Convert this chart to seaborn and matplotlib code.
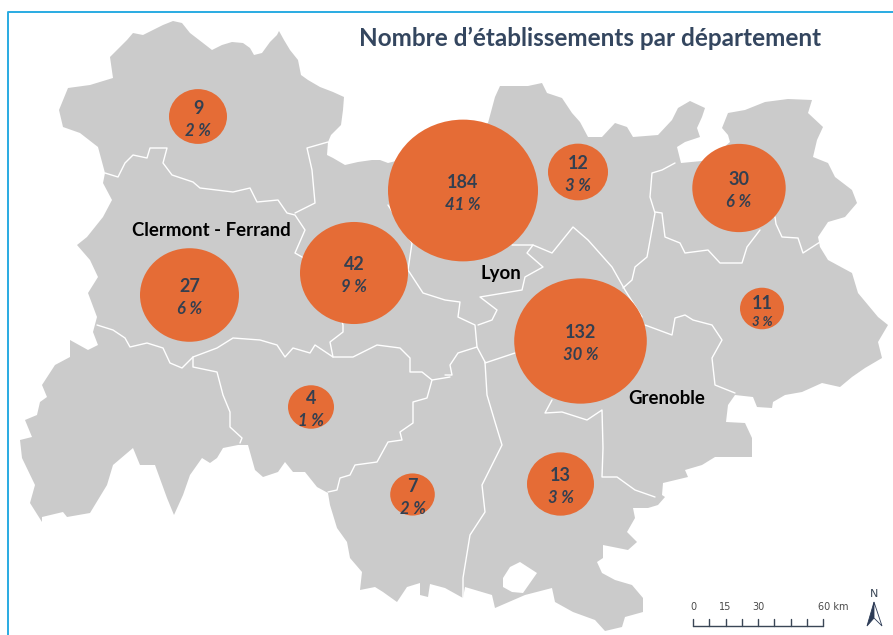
import numpy as np
import pandas as pd
import seaborn as sns
from matplotlib import pyplot as plt
from matplotlib.path import Path
from matplotlib.transforms import Affine2D

outline = [(173,21),(182,23),(190,33),(203,43),(212,50),(222,45),(232,42),(243,43),(250,48),(254,55),(262,53),
           (270,42),(277,35),(279,31),(284,40),(290,50),(298,60),(301,75),(308,80),(320,87),(333,92),(344,97),
           (343,110),(341,125),(331,135),(328,142),(327,155),(333,158),(345,165),(358,162),(372,160),(380,160),
           (388,163),(440,150),(488,123),(495,97),(500,86),(512,86),(528,86),(542,83),(547,93),(562,98),(572,113),
           (580,122),(588,137),(602,137),(615,123),(627,127),(633,137),(658,135),(672,120),(678,108),(690,101),
           (705,108),(702,117),(697,128),(700,137),(685,142),(677,147),(681,163),(702,161),(712,158),(730,142),
           (728,135),(722,128),(728,113),(745,110),(765,102),(788,99),(812,100),(808,113),(823,127),(817,140),
           (813,157),(828,163),(835,177),(852,190),(857,203),(845,217),(828,222),(818,237),(820,247),(828,260),
           (852,273),(858,293),(878,317),(888,325),(878,342),(882,358),(865,368),(852,377),(840,387),(822,383),
           (802,392),(785,395),(773,402),(772,408),(757,407),(753,397),(735,395),(728,405),(726,422),(745,423),
           (752,438),(752,457),(732,457),(715,457),(702,465),(685,470),(688,477),(663,483),(662,495),(665,497),
           (658,505),(648,508),(633,508),(635,518),(627,532),(637,542),(628,550),(603,545),(603,558),(597,562),
           (602,573),(615,580),(632,585),(643,598),(643,612),(625,617),(622,627),(605,631),(595,620),(573,612),
           (555,602),(552,588),(525,595),(495,608),(492,595),(465,587),(463,598),(445,588),(430,584),(428,597),
           (420,595),(420,583),(407,587),(397,602),(383,592),(375,587),(360,590),(362,572),(350,558),(347,542),
           (337,528),(330,505),(328,493),(317,487),(305,472),(293,472),(285,462),(278,472),(263,477),(255,470),
           (248,445),(238,445),(223,448),(217,458),(210,463),(202,458),(190,475),(183,495),(174,515),(167,498),
           (155,465),(140,465),(133,448),(113,465),(107,485),(90,513),(67,517),(63,512),(42,517),(42,522),(30,503),
           (35,485),(22,458),(20,440),(32,437),(25,420),(37,415),(40,402),(47,397),(42,385),(55,365),(70,357),
           (70,340),(88,350),(98,345),(93,332),(97,317),(88,293),(98,277),(90,260),(77,245),(87,237),(103,217),
           (112,200),(103,183),(105,173),(98,147),(80,133),(63,127),(59,110),(68,88),(90,85),(113,78),(110,57),
           (127,40),(133,33),(143,35),(163,25)]

hole = [(520,562),(537,573),(523,593),(512,592),(503,587),(503,578),(510,567)]

borders = [
    [(105,173),(118,177),(125,163),(133,155),(147,158),(150,148),(167,148),(163,163),(172,175),(193,182),(200,188),
     (233,192),(250,188),(257,202),(278,200),(287,213),(295,215),(305,230),(295,253),(302,257),(330,280),(343,325),
     (343,332),(330,342),(333,357)],
    [(328,142),(307,148),(312,170),(315,203),(295,213)],
    [(388,205),(412,243),(408,270),(423,293),(445,300),(460,302),(458,317),(475,325),(477,347),(485,362)],
    [(512,245),(533,245),(552,253),(573,227),(588,240),(612,267),(625,290),(642,317)],
    [(533,245),(527,253),(543,267),(525,277),(522,290),(480,297),(497,310),(492,320),(478,325)],
    [(675,163),(662,170),(652,173),(650,197),(655,213),(647,257),(635,267),(632,280),(623,288)],
    [(655,212),(662,213),(665,237),(680,243),(685,253),(708,250),(720,263),(742,263),(747,247),(760,230)],
    [(775,217),(776,224),(782,237),(798,238),(803,253),(820,242)],
    [(645,325),(672,335),(675,318),(685,315),(693,320),(712,325),(722,340),(712,358),(715,385),(735,393)],
    [(552,400),(545,413),(562,412),(587,420),(602,410),(603,448),(602,477),(617,477),(635,490),(655,497)],
    [(485,362),(487,395),(495,422),(502,445),(482,485),(485,512),(470,535),(463,578),(463,598)],
    [(485,363),(515,353)],
    [(477,347),(458,353),(450,365),(452,375),(445,375)],
    [(97,325),(113,330),(125,338),(130,347),(147,343),(163,348),(170,363),(182,368),(193,357),(217,348),(233,338),
     (260,340),(277,345),(285,357),(293,348),(310,353),(315,345),(333,357),(353,357),(377,345),(400,348),(410,358),
     (410,372),(422,372),(432,380),(450,377)],
    [(193,357),(193,367),(217,372),(223,395),(230,412),(230,427),(242,438),(240,443)],
    [(432,380),(427,398),(413,402),(413,423),(400,432),(402,440),(388,442),(377,462),(355,465),(350,475),(340,478),
     (337,490),(328,492)],
]

counts = [9, 27, 42, 184, 12, 30, 11, 132, 4, 7, 13]
shares = ['2 %', '6 %', '9 %', '41 %', '3 %', '6 %', '3 %', '30 %', '1 %', '2 %', '3 %']
bubble_x = [198, 189.5, 354, 463, 578, 739, 762, 580.5, 311, 412.5, 560.5]
bubble_y = [116.5, 295, 273, 190.5, 172, 188, 308.5, 341, 407, 494.5, 484]
bubble_rx = [29, 49.5, 54, 75, 30, 46.7, 22, 66.3, 23, 22.3, 33.5]

cities = ['Clermont - Ferrand', 'Lyon', 'Grenoble']
city_x = [211, 501, 667]
city_y = [231, 274, 398]

scale_km = [0, 15, 30, 60]

DARK = '#333f50'

sns.set_theme(style='white')
plt.rcParams['font.family'] = ['Lato', 'DejaVu Sans']

fig, ax = plt.subplots(figsize=(8.93, 6.35), dpi=100)
ax.set_position([0, 0, 1, 1])

# blue frame
ax.plot([8, 8, 893], [635, 12, 12], color='#29abe2', lw=1.4, solid_capstyle='butt')

# map
ax.fill(*zip(*outline), color='#cbcbcb', lw=0, zorder=1)
ax.fill(*zip(*hole), color='white', lw=0, zorder=1.5)
for line in borders:
    ax.plot(*zip(*line), color='white', lw=1.0, zorder=2)

# bubbles are slightly squashed in the original
squashed = Path.unit_circle().transformed(Affine2D().scale(1, 0.945))
df = pd.DataFrame({'x': bubble_x, 'y': bubble_y, 'count': counts, 'rx': bubble_rx})
sizes = {c: (2 * r * 0.72) ** 2 for c, r in zip(counts, bubble_rx)}
sns.scatterplot(data=df, x='x', y='y', size='count', sizes=sizes, marker=squashed,
                color='#e56c36', linewidth=0, legend=False, ax=ax, zorder=3)

for x, y, c, s in zip(bubble_x, bubble_y, counts, shares):
    # the bubble for 11 is small, its labels are tighter
    small = c == 11
    ax.text(x, y - (5 if small else 8.5), str(c), ha='center', va='center', fontsize=13, fontweight='bold',
            color=DARK, zorder=4)
    ax.text(x, y + 14, s, ha='center', va='center', fontsize=9.5 if small else 12, fontweight='bold',
            style='italic', color=DARK, zorder=4)

for name, x, y in zip(cities, city_x, city_y):
    ax.text(x, y, name, ha='center', va='center', fontsize=13.4, fontweight='bold', color='black', zorder=4)

ax.text(590, 38, 'Nombre d\u2019établissements par département', ha='center', va='center',
        fontsize=17.5, fontweight='bold', color='#34465f', zorder=4)

# scale bar
km_to_px = 130 / 60
bar_km = np.arange(0, 61, 7.5)
ax.plot([693, 823], [626, 626], color='#3a4656', lw=1)
for k in bar_km:
    ax.plot([693 + k * km_to_px] * 2, [618.5, 626], color='#3a4656', lw=1)
for k in scale_km:
    label = '60 km' if k == 60 else str(k)
    ax.text(693 + k * km_to_px + (10 if k == 60 else 0), 607, label, ha='center', va='center', fontsize=7,
            family='DejaVu Sans', color='#4a4a4a')

# north arrow
ax.text(874, 594, 'N', ha='center', va='center', fontsize=8, family='DejaVu Sans', color='#3a4656')
ax.fill([874, 867, 874], [602, 626, 618], color='#2b3a55', lw=0.6)
ax.fill([874, 882, 874], [602, 626, 618], facecolor='white', edgecolor='#2b3a55', lw=0.6)

ax.set_xlim(0, 893)
ax.set_ylim(635, 0)
ax.axis('off')

fig.savefig('out.png', dpi=100)
